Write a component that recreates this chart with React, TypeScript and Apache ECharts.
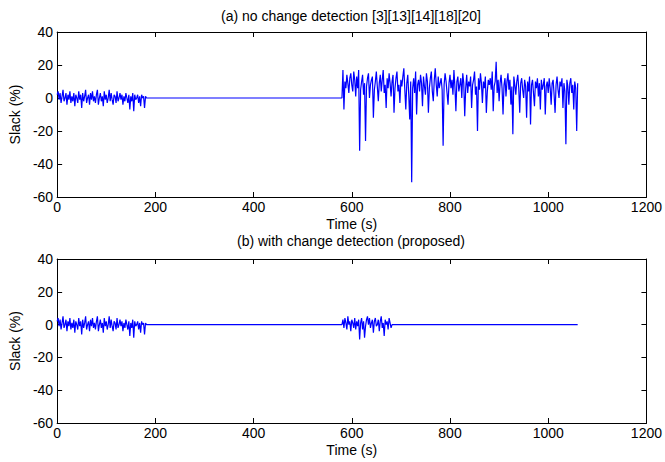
import React, { useEffect, useRef } from "react";
import * as echarts from "echarts";

// Sample step (s) for the noisy segments
const sampleStep = 2;

// Segment A: 0..180 s (same in both panels)
const segAStart = 0;
const segA = [
  2, 4, -1, 3, -3, 1, 5, -2, 0, 3,
  -4, 2, -1, 4, -3, 1, -2, 3, -5, 2,
  0, -3, 4, -1, 2, -6, 3, -2, 1, 5,
  -3, 0, 2, -4, 3, -1, 4, -2, 1, -3,
  2, 5, -4, 0, 3, -2, 1, -5, 4, -1,
  2, -3, 0, 5, -2, 3, -1, -4, 2, 1,
  -3, 4, -2, 0, 3, -1, 2, -4, 1, -2,
  3, 0, -3, 2, -7, 1, -2, 3, -8, 2,
  -1, 0, 2, -3, 1, -5, 2, 0, 1, -6,
  1,
];

// Flat (idle) segments: [time, value]
const flatTop = [[182, 0], [580, 0]];
const flatBottomMid = [[182, 0], [580, 0]];
const flatBottomEnd = [[682, 0], [1060, 0]];

// Segment B (panel a): 582..1060 s
const segBStart = 582;
const segB = [
  17, -7, 10, 6, 14, 9, 3, 12, 15, 8,
  4, 16, 11, 1, 13, 6, 17, -32, 5, 10,
  14, 2, 9, -26, 7, 12, 15, 0, 8, 11,
  13, -12, 5, 10, 16, 7, -2, 9, 14, 4,
  11, 17, 3, 8, -6, 12, 6, 15, 9, 1,
  10, 14, -9, 6, 12, 16, 4, 8, -3, 11,
  7, 13, 18, 5, -7, 9, 14, 2, -13, 10,
  -51, 6, 12, 3, 16, -10, 8, 11, 4, 14,
  9, -5, 13, 7, 2, 15, 10, -9, 6, 12,
  16, 4, -2, 11, 18, 8, 1, 13, 6, 9,
  12, 5, -29, 8, 15, 10, 3, -4, 9, 14,
  6, 11, 2, 17, 7, -8, 10, 13, 4, 8,
  12, 0, 15, 9, -11, 6, 14, 3, 10, 7,
  13, -6, 8, 11, 16, 2, 7, -20, 12, 5,
  15, 9, -3, 10, 6, 13, -9, 4, 11, 8,
  12, 5, 16, -8, 7, 10, 22, 3, 11, -2,
  9, 14, 6, -10, 8, 12, 1, 10, 15, 5,
  11, -4, 7, -22, 13, 8, 2, 10, 14, 6,
  -9, 9, 12, 5, 0, 11, 7, -12, 10, 4,
  13, -16, 8, 11, 3, -5, 10, 6, 12, 1,
  9, -7, 11, 5, 8, 12, -10, 7, 10, 3,
  12, 6, -4, 9, 11, 2, -9, 8, 13, 5,
  0, 10, 7, 12, -6, 9, 4, -28, 11, 7,
  -4, 9, 12, 3, 8, -7, 10, 6, -20, 9,
];

// Segment C (panel b): 582..680 s
const segCStart = 582;
const segC = [
  3, -2, 4, 1, -3, 5, 0, 2, -4, 3,
  1, -2, 4, -3, 2, -1, 3, -9, 1, 4,
  -3, 2, -8, -1, 3, 5, 0, 4, -2, 1,
  3, -5, 2, 4, -1, 0, 3, -4, 2, 5,
  -2, 1, -7, 3, 0, 2, -3, 4, 1, -2,
];

const xTicks = { min: 0, max: 1200, interval: 200 };
const yTicks = { min: -60, max: 40, interval: 20 };

const titles = [
  "(a) no change detection [3][13][14][18][20]",
  "(b) with change detection (proposed)",
];

function build(start: number, vals: number[]) {
  return vals.map((v, i) => [start + i * sampleStep, v]);
}

const FONT = "Liberation Sans, Arial, Helvetica, sans-serif";

export default function App() {
  const ref = useRef<HTMLDivElement>(null);
  useEffect(() => {
    if (!ref.current) return;
    const chart = echarts.init(ref.current, undefined, { renderer: "svg" });
    const grids = [
      { left: 55, top: 32, width: 592, height: 165 },
      { left: 55, top: 259, width: 592, height: 164 },
    ];
    const tick = { show: true, inside: true, length: 5, lineStyle: { color: "#000", width: 1 } };
    const axisLine = { show: true, onZero: false, lineStyle: { color: "#000", width: 1 } };
    const label = { color: "#000", fontSize: 14, fontFamily: FONT };
    const xAxes: any[] = [];
    const yAxes: any[] = [];
    [0, 1].forEach((g) => {
      xAxes.push({
        type: "value", gridIndex: g, ...xTicks, position: "bottom",
        axisLine, axisTick: tick,
        axisLabel: { ...label, margin: 3, formatter: (v: number) => String(v) },
        splitLine: { show: false },
        name: "Time (s)", nameLocation: "middle", nameGap: 20,
        nameTextStyle: { color: "#000", fontSize: 14, fontFamily: FONT },
      });
      xAxes.push({
        type: "value", gridIndex: g, ...xTicks, position: "top",
        axisLine, axisTick: tick, axisLabel: { show: false }, splitLine: { show: false },
      });
      yAxes.push({
        type: "value", gridIndex: g, ...yTicks, position: "left",
        axisLine, axisTick: tick, axisLabel: { ...label, margin: 4 },
        splitLine: { show: false },
        name: "Slack (%)", nameLocation: "middle", nameGap: 30, nameRotate: 90,
        nameTextStyle: { color: "#000", fontSize: 14, fontFamily: FONT },
      });
      yAxes.push({
        type: "value", gridIndex: g, ...yTicks, position: "right",
        axisLine, axisTick: tick, axisLabel: { show: false }, splitLine: { show: false },
      });
    });
    const lineStyle = { color: "#0000ff", width: 1.2 };
    chart.setOption({
      animation: false,
      backgroundColor: "#fff",
      grid: grids,
      xAxis: xAxes,
      yAxis: yAxes,
      graphic: titles.map((t, i) => ({
        type: "text",
        x: 351,
        y: i === 0 ? 16 : 241,
        style: {
          text: t, fill: "#000", font: `14px ${FONT}`,
          textAlign: "center", textVerticalAlign: "middle",
        },
      })),
      series: [
        {
          type: "line", xAxisIndex: 0, yAxisIndex: 0, showSymbol: false,
          lineStyle, color: "#0000ff",
          data: [...build(segAStart, segA), ...flatTop, ...build(segBStart, segB)],
        },
        {
          type: "line", xAxisIndex: 2, yAxisIndex: 2, showSymbol: false,
          lineStyle, color: "#0000ff",
          data: [
            ...build(segAStart, segA), ...flatBottomMid,
            ...build(segCStart, segC), ...flatBottomEnd,
          ],
        },
      ],
    });
    return () => chart.dispose();
  }, []);
  return (
    <div
      ref={ref}
      style={{ position: "fixed", left: 0, top: 0, width: 665, height: 462, background: "#fff" }}
    />
  );
}
